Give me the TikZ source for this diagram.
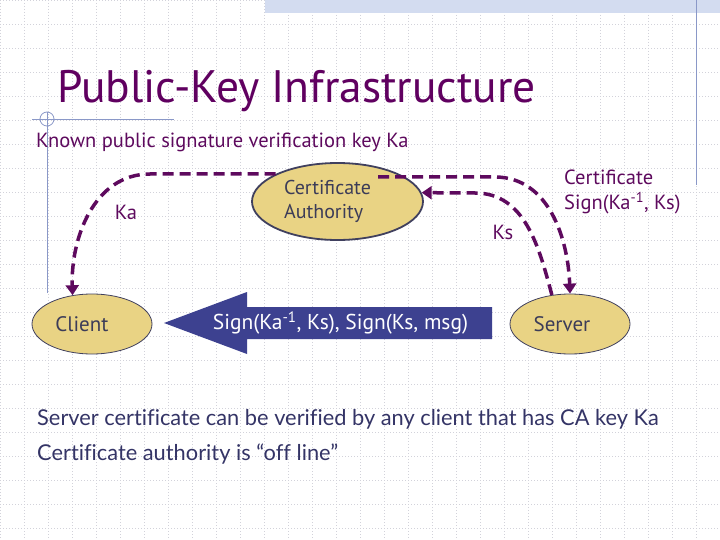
\documentclass[tikz,border=0pt]{standalone}
\usepackage{fontspec}
\setmainfont{PT Sans}
\newfontfamily\notefont{Lato}[Ligatures=NoCommon]
\usetikzlibrary{arrows.meta,shapes.geometric}
\definecolor{titlec}{HTML}{600060}
\definecolor{keyc}{HTML}{5E0A5E}
\definecolor{partyc}{HTML}{E9D384}
\definecolor{edgec}{HTML}{40405E}
\definecolor{labelc}{HTML}{3C3C58}
\definecolor{arrowc}{HTML}{3D4190}
\definecolor{notec}{HTML}{343466}
\definecolor{decoc}{HTML}{8A98C8}
\definecolor{bandc}{HTML}{D3DCF0}
\definecolor{gridc}{HTML}{D2D2DA}
\tikzset{
  gridline/.style={draw=gridc, line width=0.6pt, dash pattern=on 1pt off 2pt},
  deco/.style={draw=decoc, line width=0.8pt},
  party/.style={ellipse, draw=edgec, fill=partyc, text=labelc, inner sep=0pt, line width=0.8pt, font=\fontsize{21}{24}\selectfont},
  keyline/.style={draw=keyc, line width=3.5pt, dash pattern=on 11pt off 6pt, -{Triangle[width=13pt,length=10pt]}},
  keylabel/.style={text=keyc, font=\fontsize{20.5}{25}\selectfont, align=left},
  signtext/.style={text=white, font=\fontsize{21.5}{24}\selectfont, inner sep=0pt},
  note/.style={anchor=base west, text=notec, inner sep=0pt, font=\notefont\fontsize{21.8}{26}\selectfont},
}

\begin{document}
\begin{tikzpicture}[x=1pt, y=-1pt]
\useasboundingbox (0,0) rectangle (720,540);
\fill[white] (0,0) rectangle (720,540);
\foreach \gx in {0,24,...,720} \draw[gridline] (\gx,0) -- (\gx,540);
\foreach \gy in {0,24,...,540} \draw[gridline] (0,\gy) -- (720,\gy);
% slide decoration
\fill[bandc] (265,0) rectangle (720,13);
\draw[deco] (696,0) -- (696,185);
\draw[deco] (32,119) -- (174,119);
\draw[deco] (47,112) -- (47,293);
\draw[deco] (47,119) circle (7);
% headings
\node[anchor=base west, text=titlec, font=\fontsize{45.5}{50}\selectfont, inner sep=0pt] (title) at (57,103) {Public-Key Infrastructure};
\node[anchor=base west, text=keyc, font=\fontsize{20.5}{24}\selectfont, inner sep=0pt] (known) at (36,148) {Known public signature verification key Ka};
% parties
\node[party, minimum width=120pt, minimum height=60pt] (client) at (92,324) {Client\hspace*{20pt}};
\node[party, minimum width=120pt, minimum height=60pt] (server) at (570,324) {Server\hspace*{16pt}};
\node[party, minimum width=171pt, minimum height=77pt, line width=1.8pt, align=left, font=\fontsize{20}{24}\selectfont] (ca) at (337.5,201.5) {Certificate\hspace*{20pt}\\Authority};
% signed message
\fill[arrowc] (164,323) -- (247,292) -- (247,307) -- (492,307) -- (492,339) -- (247,339) -- (247,354) -- cycle;
\node[signtext] (sigmsg) at (340.5,323) {Sign(Ka\textsuperscript{-1}, Ks), Sign(Ks, msg)};
% key transfers
\coordinate (castart) at ([xshift=40.5pt, yshift=24.5pt]ca.center);
\draw[keyline] (ca.156) -- (150,174) to[out=180, in=92] (client.124);
\draw[keyline] (castart) -- (495,177) to[out=0, in=92] (server.north);
\draw[keyline] (server.122) to[out=105, in=0] (475,193) -- (ca.6);
\node[keylabel] (ka) at (126,212) {Ka};
\node[keylabel] (ks) at (503,232) {Ks};
\node[keylabel, anchor=base west, inner sep=0pt] (cert) at (564,210) {Certificate\\Sign(Ka\textsuperscript{-1}, Ks)};
% remarks
\node[note] (remark1) at (37,425) {Server certificate can be verified by any client that has CA key Ka};
\node[note] (remark2) at (37,460) {Certificate authority is “off line”};
\end{tikzpicture}
\end{document}
